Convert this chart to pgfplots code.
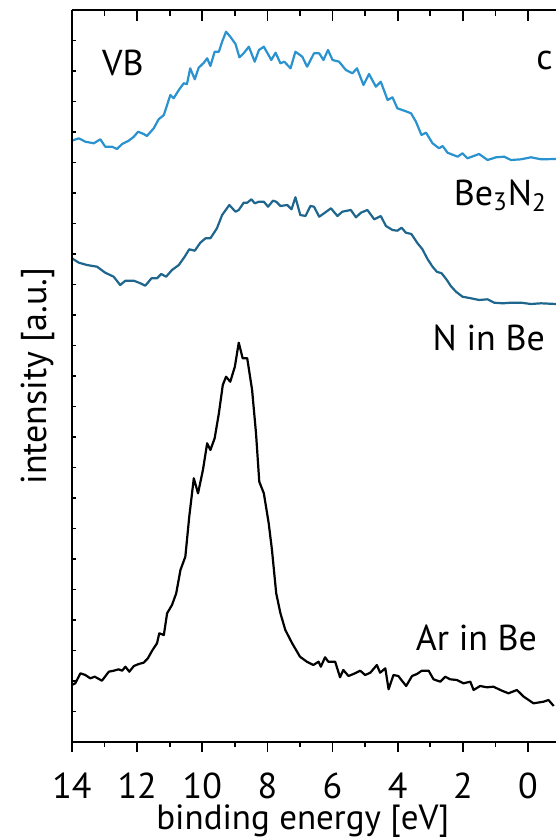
\documentclass[border=0pt]{standalone}
\usepackage{pgfplots}
\pgfplotsset{compat=1.18}
\usepackage{fontspec}
\setmainfont{PT Sans}
\definecolor{cTop}{RGB}{41,146,207}
\definecolor{cMid}{RGB}{31,102,142}
\begin{document}
\begin{tikzpicture}
\pgfplotsset{base/.style={scale only axis, width=242pt, height=366pt,
  x dir=reverse, xmin=-0.86, xmax=14, ymin=0, ymax=732,
  axis line style={-, line width=1.1pt, black},
  every tick/.style={black, line width=0.9pt}}}
\begin{axis}[base, name=main,
  axis x line*=bottom, axis y line*=left, tick align=outside,
  xtick={0,2,...,14}, minor xtick={1,3,...,13}, ytick=\empty,
  major tick length=5pt, minor tick length=2.5pt,
  font=\fontsize{18}{21}\selectfont,
  /pgf/number format/assume math mode=true,
  xticklabel style={anchor=base, yshift=-23pt, inner sep=0pt},
  xlabel={binding energy [eV]}, ylabel={intensity [a.u.]},
  xlabel style={at={(axis description cs:0.477,0)}, anchor=base, yshift=-43.5pt, inner sep=0pt, font=\fontsize{17.5}{20}\selectfont},
  ylabel style={at={(axis description cs:-0.0702,0.5)}, anchor=center, rotate=0},
  every axis plot/.style={line width=1.1pt, line join=round}]
\addplot[cTop] coordinates {
(14.00,601.3)(13.79,603.7)(13.59,600.3)(13.33,598.7)(13.13,602.7)(12.98,595.3)(12.77,595.3)(12.62,593)
(12.46,598)(12.26,601.3)(12.10,605.3)(11.97,610.3)(11.80,608)(11.70,606)(11.49,613.7)(11.34,622.7)
(11.18,627)(10.98,647)(10.88,643.7)(10.72,652)(10.57,658.7)(10.47,658)(10.37,673.7)(10.23,662.7)
(10.11,674.3)(9.95,679.3)(9.85,683.7)(9.75,676)(9.62,690.3)(9.49,690.3)(9.39,700.3)(9.27,710.3)
(9.14,705.3)(8.98,698)(8.86,684.7)(8.73,688.7)(8.57,695.3)(8.39,680.3)(8.26,692)(8.11,695.3)
(7.88,682)(7.75,689.3)(7.60,678.7)(7.48,680.3)(7.29,673.7)(7.14,690.3)(6.93,685.3)(6.78,675.3)
(6.57,688.7)(6.41,688.7)(6.28,682)(6.14,692)(6.00,682)(5.80,680.3)(5.59,672)(5.39,668.7)
(5.25,673.7)(5.05,657)(4.88,668)(4.67,655.3)(4.52,660.3)(4.31,642)(4.16,644.7)(4.01,633.7)
(3.80,631.3)(3.59,628.7)(3.44,620.3)(3.27,607)(3.13,609.3)(2.93,598.7)(2.73,593.7)(2.62,596)
(2.47,589.3)(2.16,585.3)(2.01,588.7)(1.86,583.7)(1.50,588)(1.24,582)(0.98,584.7)(0.73,585.3)
(0.52,582)(0.21,582.7)(-0.09,584.7)(-0.40,582.7)(-0.86,583)};
\addplot[cMid] coordinates {
(14.00,483.7)(13.79,479.3)(13.54,477)(13.23,475.3)(12.98,469.3)(12.72,465.3)(12.52,457)(12.36,461.3)
(12.10,461.3)(11.90,458.7)(11.75,456.3)(11.56,463.7)(11.39,463.7)(11.26,468)(11.11,465.3)(10.93,472)
(10.72,477)(10.54,485.3)(10.40,492.7)(10.23,491.3)(10.06,499.3)(9.90,503.7)(9.75,503.7)(9.55,513.7)
(9.39,527)(9.17,537)(8.98,530.3)(8.88,532)(8.73,539.3)(8.62,539.3)(8.49,542.7)(8.39,538.7)
(8.26,540.3)(8.11,540.3)(7.98,535.3)(7.83,541.3)(7.73,540.3)(7.60,536)(7.39,537)(7.26,532.7)
(7.14,544.7)(6.99,527)(6.83,526)(6.68,536)(6.57,535.3)(6.41,525.3)(6.26,528.7)(6.05,533.7)
(5.85,526)(5.70,530.3)(5.44,532)(5.28,524.7)(5.13,529.3)(4.93,532)(4.72,522.7)(4.52,526)
(4.36,516)(4.16,512)(4.01,511.3)(3.88,514.3)(3.75,509.3)(3.58,508)(3.39,498.7)(3.24,492.7)
(3.08,482.7)(2.93,475.3)(2.80,470.3)(2.65,468.7)(2.49,462)(2.37,456)(2.21,450.3)(2.01,445.3)
(1.75,443.7)(1.50,442)(1.24,442.7)(1.04,439.3)(0.78,438.7)(0.52,439.3)(0.21,439.3)(-0.09,438)
(-0.40,438.7)(-0.86,438)};
\addplot[black] coordinates {
(14.00,57)(13.90,58.7)(13.74,68.7)(13.59,67)(13.44,63.7)(13.30,65.3)(13.08,61.3)(12.87,70.3)
(12.72,71.3)(12.57,72.7)(12.46,71.3)(12.36,75.3)(12.24,70.3)(12.10,76)(11.95,78)(11.80,79.3)
(11.67,83.7)(11.54,91.3)(11.39,98.7)(11.32,108.7)(11.18,107)(11.08,128.7)(10.93,137)(10.80,148.7)
(10.67,172)(10.52,185.3)(10.40,225.3)(10.26,263.7)(10.13,248.7)(9.98,272)(9.85,298.7)(9.75,292)
(9.62,303.7)(9.49,328.7)(9.37,357)(9.27,365.3)(9.14,360.3)(9.00,375.3)(8.88,399.3)(8.76,383.7)
(8.62,383.7)(8.47,352)(8.35,308.7)(8.25,260.3)(8.11,248.7)(7.96,218.7)(7.86,192)(7.73,148.7)
(7.60,128.7)(7.45,112)(7.24,98.7)(7.00,85.3)(6.79,80.3)(6.59,77)(6.43,80.3)(6.36,75.3)
(6.23,84.7)(6.13,80.3)(5.92,80.3)(5.77,64.7)(5.67,72)(5.51,66)(5.31,68.7)(5.15,71.3)
(5.00,67)(4.84,69.3)(4.64,77)(4.54,69.3)(4.38,73.7)(4.28,52.7)(4.13,67)(3.98,66)
(3.87,61.3)(3.74,56)(3.56,66)(3.41,68)(3.26,71.3)(3.05,71.3)(2.90,62.7)(2.69,60.3)
(2.54,65.3)(2.39,62.7)(2.18,62)(1.98,58.7)(1.77,60.3)(1.67,52)(1.47,56)(1.26,54.7)
(1.06,55.3)(0.80,51.3)(0.60,48.7)(0.34,52)(0.13,45.3)(-0.17,38.7)(-0.48,40.3)(-0.63,42)(-0.79,36)};
\node[anchor=base west] at (axis cs:13.29,667) {VB};
\node[anchor=base west] at (axis cs:-0.04,673) {c};
\node[anchor=base east, inner sep=0pt] at (axis cs:-0.59,537) {Be\textsubscript{3}N\textsubscript{2}};
\node[anchor=base east, inner sep=0pt] at (axis cs:-0.53,392) {N in Be};
\node[anchor=base east, inner sep=0pt] at (axis cs:-0.29,92) {Ar in Be};
\end{axis}
\begin{axis}[base, axis x line*=top, axis y line=none, tick align=inside,
  xtick={0,2,...,14}, minor xtick={1,3,...,13}, xticklabels={}, ytick=\empty,
  major tick length=5.5pt, minor tick length=3pt]
\end{axis}
\begin{axis}[base, axis x line=none, axis y line*=left, tick align=inside,
  xtick=\empty, ytick={0,30.5,...,732}, yticklabels={}, major tick length=2pt]
\end{axis}
\pgfresetboundingbox
\path ([shift={(-36pt,-47.5pt)}]main.south west) rectangle ([shift={(0pt,5pt)}]main.north east);
\end{tikzpicture}
\end{document}
